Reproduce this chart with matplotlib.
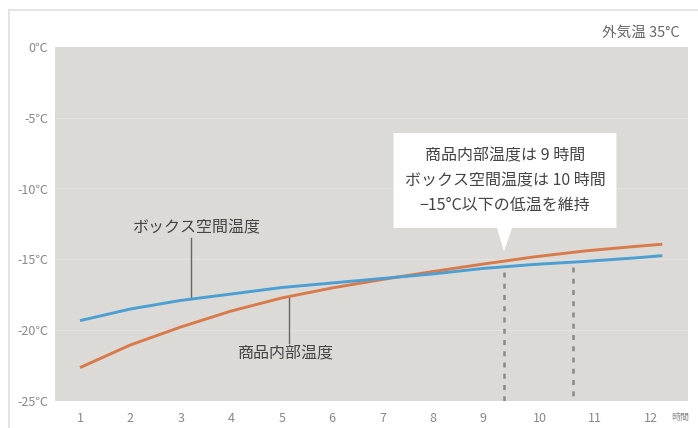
import matplotlib
matplotlib.use("Agg")
import matplotlib.pyplot as plt
import matplotlib.patches as mpatches
import numpy as np

plt.rcParams['font.family'] = ['Noto Sans CJK JP', 'DejaVu Sans']

# data
hours = [1, 2, 3, 4, 5, 6, 7, 8, 9, 10, 11, 12, 12.55]
box_temp = [-19.34, -18.52, -17.91, -17.46, -17.0, -16.68, -16.36, -16.04,
            -15.65, -15.37, -15.16, -14.91, -14.75]
item_temp = [-22.66, -21.06, -19.79, -18.66, -17.74, -17.03, -16.43, -15.87,
             -15.34, -14.84, -14.42, -14.1, -13.94]
tick_labels = ["1", "2", "3", "4", "5", "6", "7", "8", "9", "10", "11", "12"]
tick_pos = [1, 2, 3, 4, 5, 6, 7, 8, 9, 10.13, 11.22, 12.33]
y_ticks = [0, -5, -10, -15, -20, -25]
y_labels = ["0℃", "-5℃", "-10℃", "-15℃", "-20℃", "-25℃"]
hold_hours = [9.41, 10.78]   # dashed markers (item 9h / box 10h)

BLUE = "#4b9fd2"
ORANGE = "#d97a4b"
BG = "#dcdad7"
TXT = "#444444"
GREY = "#888888"

fig = plt.figure(figsize=(6.98, 4.28), dpi=100)
fig.patch.set_facecolor("white")
# outer panel border
fig.patches.append(mpatches.Rectangle((9 / 698, -0.02), 1.0, 1 - 10 / 428 + 0.02,
                                      transform=fig.transFigure, fill=False,
                                      edgecolor="#e2e2e2", lw=1.3))

ax = fig.add_axes([55 / 698, 1 - 400.7 / 428, (688 - 55) / 698, (400.7 - 47) / 428])
ax.set_facecolor(BG)
ax.set_xlim(0.504, 13.06)
ax.set_ylim(-25, 0)
for s in ax.spines.values():
    s.set_visible(False)

for yv in y_ticks[1:-1]:
    ax.axhline(yv, color="#e3e1de", lw=0.9, zorder=1)

ax.set_yticks(y_ticks)
ax.set_yticklabels(y_labels, fontsize=9, color=GREY)
ax.set_xticks(tick_pos)
ax.set_xticklabels(tick_labels, fontsize=9, color=GREY)
ax.tick_params(length=0, pad=5)
ax.tick_params(axis="x", pad=8)

ax.plot(hours, item_temp, color=ORANGE, lw=2.1, zorder=3, solid_capstyle="butt")
ax.plot(hours, box_temp, color=BLUE, lw=2.1, zorder=4, solid_capstyle="butt")

# dashed markers from the box curve down to the floor
for h in hold_hours:
    top = np.interp(h, hours, box_temp) - 0.35
    ax.plot([h, h], [top, -25], color="#8a8a8a", lw=1.8, ls=(0, (2, 2.5)), zorder=2)

# leader labels
ax.plot([3.21, 3.21], [-13.5, np.interp(3.21, hours, box_temp)], color="#666666", lw=1, zorder=2)
ax.text(3.31, -12.8, "ボックス空間温度", fontsize=11.5, color=TXT, ha="center", va="center")
ax.plot([5.15, 5.15], [np.interp(5.15, hours, item_temp), -20.9], color="#666666", lw=1, zorder=2)
ax.text(5.08, -21.7, "商品内部温度", fontsize=11.5, color=TXT, ha="center", va="center")

# callout box
bx0, bx1, by0, by1 = 7.22, 11.64, -6.08, -12.79
callout = mpatches.Polygon([(bx0, by0), (bx1, by0), (bx1, by1), (9.57, by1),
                            (9.41, -14.45), (9.27, by1), (bx0, by1)],
                           closed=True, facecolor="white", edgecolor="none", zorder=5)
ax.add_patch(callout)
cx = (bx0 + bx1) / 2
ax.text(cx, -7.7, "商品内部温度は 9 時間", fontsize=11.5, color=TXT, ha="center", va="center", zorder=6)
ax.text(cx, -9.45, "ボックス空間温度は 10 時間", fontsize=11.5, color=TXT, ha="center", va="center", zorder=6)
ax.text(cx, -11.2, "−15°C以下の低温を維持", fontsize=11.5, color=TXT, ha="center", va="center", zorder=6)

fig.text(680 / 698, 1 - 33 / 428, "外気温 35°C", fontsize=10.5, color="#666666", ha="right", va="center")
fig.text(680 / 698, 1 - 417 / 428, "時間", fontsize=6.5, color=GREY, ha="center", va="center")

fig.savefig("out.png", dpi=100, facecolor="white")
